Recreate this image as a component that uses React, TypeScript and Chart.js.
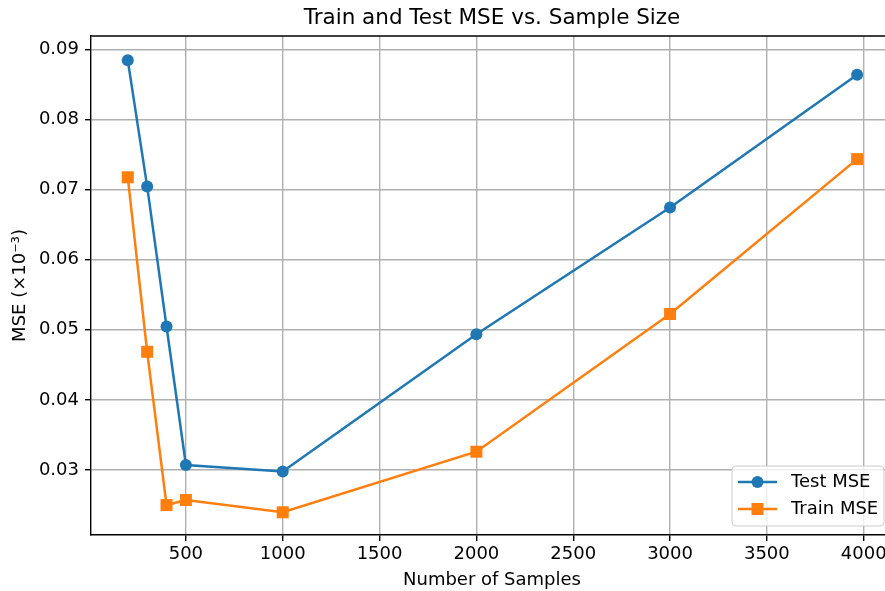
import React, { useEffect, useRef } from "react";
import { Chart, registerables } from "chart.js";

Chart.register(...registerables);

const sampleSizes = [200, 300, 400, 500, 1000, 2000, 3000, 3966];
const testMSE = [0.08843, 0.07045, 0.05047, 0.03071, 0.02978, 0.04936, 0.06745, 0.08638];
const trainMSE = [0.07175, 0.04686, 0.02500, 0.02572, 0.02397, 0.03261, 0.05225, 0.07434];
const xTicks = [500, 1000, 1500, 2000, 2500, 3000, 3500, 4000];
const yTicks = [0.03, 0.04, 0.05, 0.06, 0.07, 0.08, 0.09];

const BLUE = "#1f77b4";
const ORANGE = "#ff7f0e";
const FONT = "DejaVu Sans";

const decorPlugin = {
  id: "decor",
  afterDraw(chart: any) {
    const { ctx, chartArea } = chart;
    const { left, right, top, bottom } = chartArea;
    ctx.save();
    // top spine
    ctx.strokeStyle = "#000";
    ctx.lineWidth = 1.4;
    ctx.beginPath();
    ctx.moveTo(left - 0.7, top);
    ctx.lineTo(right, top);
    ctx.stroke();

    // title
    ctx.fillStyle = "#000";
    ctx.font = `21.5px "${FONT}"`;
    ctx.textAlign = "center";
    ctx.textBaseline = "middle";
    ctx.fillText("Train and Test MSE vs. Sample Size", 492, 18);

    // x label
    ctx.font = `18px "${FONT}"`;
    ctx.fillText("Number of Samples", 492, 580);

    // y label
    ctx.save();
    ctx.translate(20, (top + bottom) / 2);
    ctx.rotate(-Math.PI / 2);
    ctx.fillText("MSE (×10⁻³)", 0, 0);
    ctx.restore();

    // legend
    const bx = 732;
    const by = 466;
    const bw = 152;
    const bh = 60;
    const r = 4;
    ctx.beginPath();
    ctx.moveTo(bx + r, by);
    ctx.lineTo(bx + bw - r, by);
    ctx.quadraticCurveTo(bx + bw, by, bx + bw, by + r);
    ctx.lineTo(bx + bw, by + bh - r);
    ctx.quadraticCurveTo(bx + bw, by + bh, bx + bw - r, by + bh);
    ctx.lineTo(bx + r, by + bh);
    ctx.quadraticCurveTo(bx, by + bh, bx, by + bh - r);
    ctx.lineTo(bx, by + r);
    ctx.quadraticCurveTo(bx, by, bx + r, by);
    ctx.closePath();
    ctx.fillStyle = "rgba(255,255,255,0.8)";
    ctx.fill();
    ctx.strokeStyle = "#cccccc";
    ctx.lineWidth = 1;
    ctx.stroke();

    const rows = [
      { label: "Test MSE", color: BLUE, shape: "circle", y: 482 },
      { label: "Train MSE", color: ORANGE, shape: "square", y: 509 },
    ];
    rows.forEach((row) => {
      const x0 = bx + 6;
      const x1 = bx + 45;
      const xm = (x0 + x1) / 2;
      ctx.strokeStyle = row.color;
      ctx.lineWidth = 2.5;
      ctx.beginPath();
      ctx.moveTo(x0, row.y);
      ctx.lineTo(x1, row.y);
      ctx.stroke();
      ctx.fillStyle = row.color;
      if (row.shape === "circle") {
        ctx.beginPath();
        ctx.arc(xm, row.y, 6, 0, Math.PI * 2);
        ctx.fill();
      } else {
        ctx.fillRect(xm - 6, row.y - 6, 12, 12);
      }
      ctx.fillStyle = "#000";
      ctx.font = `18px "${FONT}"`;
      ctx.textAlign = "left";
      ctx.textBaseline = "middle";
      ctx.fillText(row.label, bx + 59, row.y);
    });
    ctx.restore();
  },
};

export default function App() {
  const canvasRef = useRef<HTMLCanvasElement | null>(null);

  useEffect(() => {
    if (!canvasRef.current) return;
    const chart = new Chart(canvasRef.current, {
      type: "line",
      data: {
        datasets: [
          {
            label: "Test MSE",
            data: sampleSizes.map((x, i) => ({ x, y: testMSE[i] })),
            borderColor: BLUE,
            backgroundColor: BLUE,
            borderWidth: 2.5,
            pointStyle: "circle",
            pointRadius: 6,
            pointHoverRadius: 6,
            pointBorderWidth: 0,
            tension: 0,
          },
          {
            label: "Train MSE",
            data: sampleSizes.map((x, i) => ({ x, y: trainMSE[i] })),
            borderColor: ORANGE,
            backgroundColor: ORANGE,
            borderWidth: 2.5,
            pointStyle: "rect",
            pointRadius: 8.5,
            pointHoverRadius: 8.5,
            pointBorderWidth: 0,
            tension: 0,
          },
        ],
      },
      options: {
        animation: false,
        responsive: false,
        events: [],
        layout: { autoPadding: false, padding: { top: 36, left: 0, right: 0, bottom: 0 } },
        plugins: {
          legend: { display: false },
          title: { display: false },
          tooltip: { enabled: false },
        },
        scales: {
          x: {
            type: "linear",
            min: 10,
            max: 4110,
            afterBuildTicks: (s: any) => {
              s.ticks = xTicks.map((v) => ({ value: v }));
            },
            afterFit: (s: any) => {
              s.height = 56;
              s.paddingLeft = 0;
              s.paddingRight = 0;
            },
            ticks: {
              callback: (v: any) => String(v),
              font: { family: FONT, size: 18 },
              color: "#000",
              padding: 3,
              maxRotation: 0,
              autoSkip: false,
            },
            grid: {
              color: "#b0b0b0",
              lineWidth: 1.4,
              tickColor: "#000",
              tickLength: 6,
              tickWidth: 1.4,
            },
            border: { color: "#000", width: 1.4 },
          },
          y: {
            type: "linear",
            min: 0.02073,
            max: 0.0919,
            afterBuildTicks: (s: any) => {
              s.ticks = yTicks.map((v) => ({ value: v }));
            },
            afterFit: (s: any) => {
              s.width = 91;
              s.paddingTop = 0;
              s.paddingBottom = 0;
            },
            ticks: {
              callback: (v: any) => Number(v).toFixed(2),
              font: { family: FONT, size: 18 },
              color: "#000",
              padding: 6,
              autoSkip: false,
            },
            grid: {
              color: "#b0b0b0",
              lineWidth: 1.4,
              tickColor: "#000",
              tickLength: 6,
              tickWidth: 1.4,
            },
            border: { color: "#000", width: 1.4 },
          },
        },
      },
      plugins: [decorPlugin],
    } as any);
    return () => chart.destroy();
  }, []);

  return (
    <div style={{ position: "absolute", left: 0, top: 0, width: 885, height: 591, background: "#fff" }}>
      <canvas ref={canvasRef} width={885} height={591} style={{ display: "block" }} />
    </div>
  );
}
